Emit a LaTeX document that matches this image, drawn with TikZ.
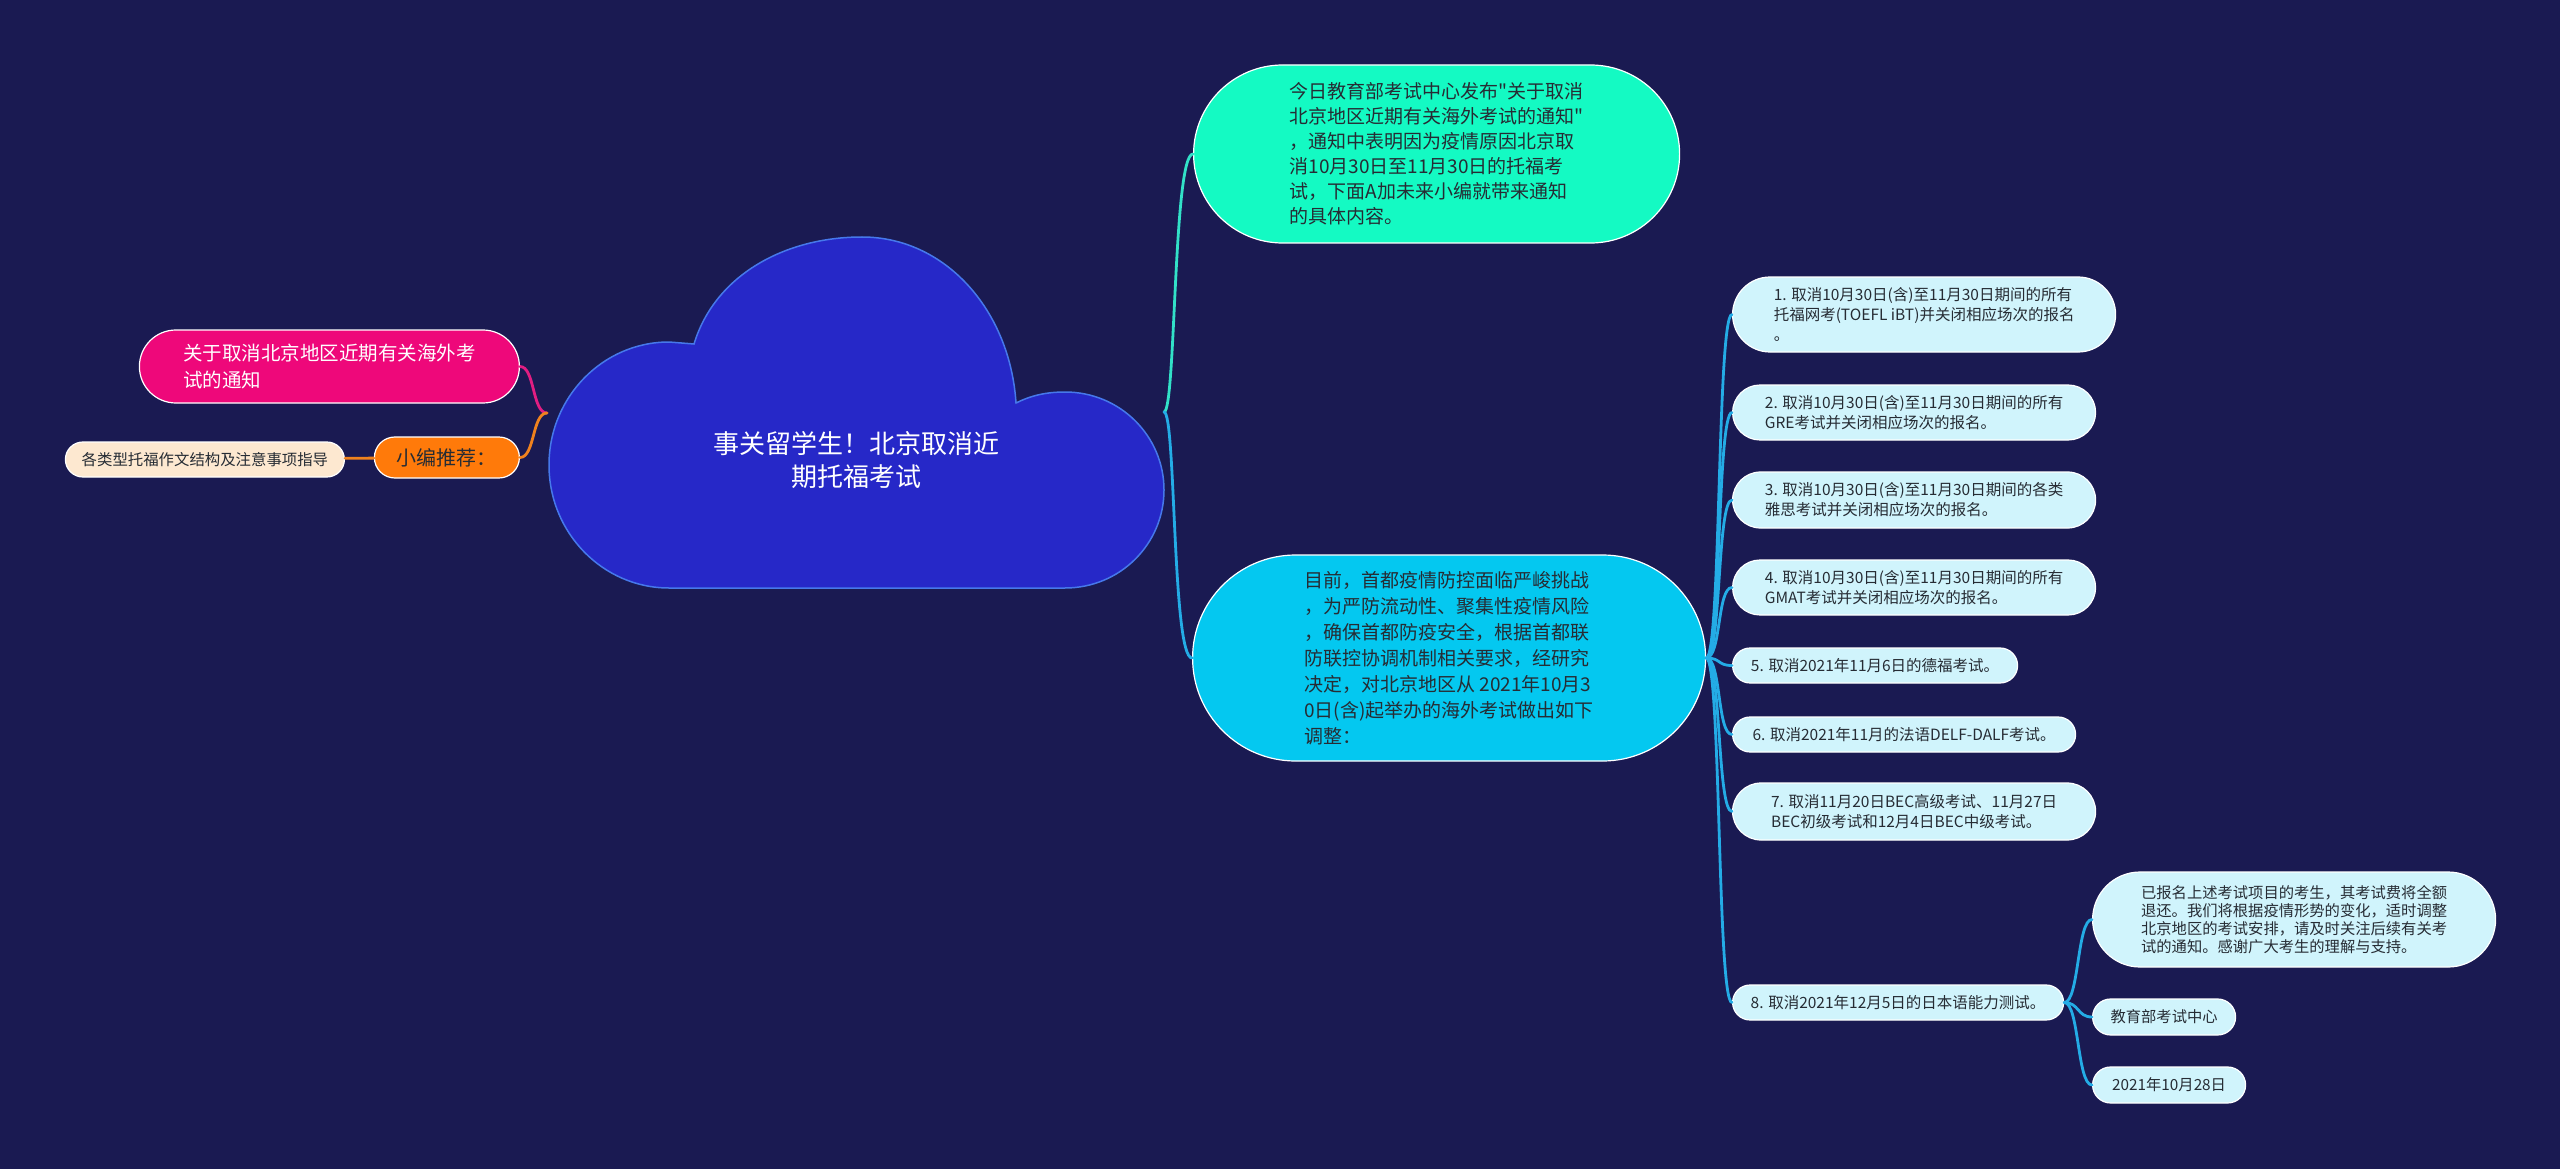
\documentclass[tikz,border=0pt]{standalone}
\usepackage{fontspec}
\setmainfont{Noto Sans CJK SC}[Ligatures=TeXOff]
\definecolor{navybg}{RGB}{26,26,82}
\definecolor{cloudblue}{RGB}{38,40,200}
\definecolor{cloudedge}{RGB}{70,120,235}
\definecolor{mint}{RGB}{20,250,195}
\definecolor{skyblue}{RGB}{4,200,240}
\definecolor{itemcyan}{RGB}{208,244,252}
\definecolor{hotpink}{RGB}{238,8,122}
\definecolor{tangerine}{RGB}{255,122,10}
\definecolor{cream}{RGB}{253,232,208}
\definecolor{inkgray}{RGB}{38,44,52}
\definecolor{mintline}{RGB}{50,225,200}
\definecolor{skyline}{RGB}{36,172,230}
\definecolor{pinkline}{RGB}{225,30,130}
\definecolor{orangeline}{RGB}{240,130,30}

\begin{document}
\begin{tikzpicture}[x=1pt, y=-1pt,
    pill/.style 2 args={rectangle, minimum width=#1, minimum height=#2, rounded corners=#2/2, inner sep=0pt,
      draw=white, line width=1.2pt, align=left, text=inkgray},
    item/.style 2 args={pill={#1}{#2}, fill=itemcyan, anchor=west, font=\fontsize{15.5pt}{20pt}\selectfont},
    sub/.style 2 args={pill={#1}{#2}, fill=itemcyan, anchor=west, font=\fontsize{15.3pt}{18pt}\selectfont},
    link/.style={line width=2.8pt, line cap=round}]

  % background
  \fill[navybg] (0,0) rectangle (2560,1169);

  % central cloud
  \draw[fill=cloudblue, draw=cloudedge, line width=1.5pt] (669,588) .. controls (603,588) and (549,533) .. (549,465)
    .. controls (549,397) and (603,342) .. (669,342) -- (694,344)
    .. controls (715,275) and (785,237) .. (862,237) .. controls (945,237) and (1010,310) .. (1016,403)
    .. controls (1030,396) and (1045,392) .. (1065,392) .. controls (1120,392) and (1164,436) .. (1164,490)
    .. controls (1164,544) and (1120,588) .. (1065,588) -- cycle;
  \node[text=white, align=center, font=\fontsize{26pt}{33pt}\selectfont] (root) at (856,460) {事关留学生！北京取消近\\期托福考试};
  \coordinate (jl) at (547,413);
  \coordinate (jr) at (1164,412);

  % right side
  \node[pill={486pt}{178pt}, fill=mint, anchor=west, font=\fontsize{19pt}{25pt}\selectfont] (notice) at (1193,154)
    {今日教育部考试中心发布"关于取消\\北京地区近期有关海外考试的通知"\\，通知中表明因为疫情原因北京取\\消10月30日至11月30日的托福考\\试，下面A加未来小编就带来通知\\的具体内容。};
  \node[pill={513pt}{206pt}, fill=skyblue, anchor=west, font=\fontsize{19pt}{26pt}\selectfont] (adjust) at (1192,658)
    {目前，首都疫情防控面临严峻挑战\\，为严防流动性、聚集性疫情风险\\，确保首都防疫安全，根据首都联\\防联控协调机制相关要求，经研究\\决定，对北京地区从 2021年10月3\\0日(含)起举办的海外考试做出如下\\调整：};

  \node[item={383pt}{75pt}] (c1) at (1732,314.5) {1. 取消10月30日(含)至11月30日期间的所有\\托福网考(TOEFL iBT)并关闭相应场次的报名\\。};
  \node[item={363pt}{55pt}] (c2) at (1732,412.5) {2. 取消10月30日(含)至11月30日期间的所有\\GRE考试并关闭相应场次的报名。};
  \node[item={363pt}{56pt}] (c3) at (1732,500) {3. 取消10月30日(含)至11月30日期间的各类\\雅思考试并关闭相应场次的报名。};
  \node[item={363pt}{55pt}] (c4) at (1732,587.5) {4. 取消10月30日(含)至11月30日期间的所有\\GMAT考试并关闭相应场次的报名。};
  \node[item={285pt}{35pt}] (c5) at (1732,665.5) {5. 取消2021年11月6日的德福考试。};
  \node[item={343pt}{35pt}] (c6) at (1732,734.5) {6. 取消2021年11月的法语DELF-DALF考试。};
  \node[item={363pt}{57pt}] (c7) at (1732,811.5) {7. 取消11月20日BEC高级考试、11月27日\\BEC初级考试和12月4日BEC中级考试。};
  \node[item={331pt}{35pt}] (c8) at (1732,1002.5) {8. 取消2021年12月5日的日本语能力测试。};

  \node[sub={403pt}{95pt}] (refund) at (2092,919.5) {已报名上述考试项目的考生，其考试费将全额\\退还。我们将根据疫情形势的变化，适时调整\\北京地区的考试安排，请及时关注后续有关考\\试的通知。感谢广大考生的理解与支持。};
  \node[sub={143pt}{36pt}] (center) at (2092,1017) {教育部考试中心};
  \node[sub={153pt}{36pt}] (date) at (2092,1085) {2021年10月28日};

  % left side
  \node[pill={380pt}{73pt}, fill=hotpink, text=white, anchor=east, font=\fontsize{19.5pt}{27pt}\selectfont] (related) at (520,366.5) {关于取消北京地区近期有关海外考\\试的通知};
  \node[pill={145pt}{41pt}, fill=tangerine, anchor=east, font=\fontsize{20pt}{24pt}\selectfont] (recommend) at (520,457.5) {小编推荐：};
  \node[pill={279pt}{35pt}, fill=cream, anchor=east, font=\fontsize{15.4pt}{18pt}\selectfont] (guide) at (345,459.5) {各类型托福作文结构及注意事项指导};

  % connectors
  \draw[link, mintline] (jr) .. controls +(12,0) and +(-20,0) .. (notice.west);
  \draw[link, skyline] (jr) .. controls +(12,0) and +(-20,0) .. (adjust.west);
  \foreach \i in {1,...,8}
    \draw[link, skyline] (adjust.east) .. controls +(15,0) and +(-15,0) .. (c\i.west);
  \foreach \s in {refund,center,date}
    \draw[link, skyline] (c8.east) .. controls +(15,0) and +(-15,0) .. (\s.west);
  \draw[link, pinkline] (jl) .. controls +(-15,0) and +(15,0) .. (related.east);
  \draw[link, orangeline] (jl) .. controls +(-15,0) and +(15,0) .. (recommend.east);
  \draw[link, orangeline] (guide) -- (recommend);
\end{tikzpicture}
\end{document}
